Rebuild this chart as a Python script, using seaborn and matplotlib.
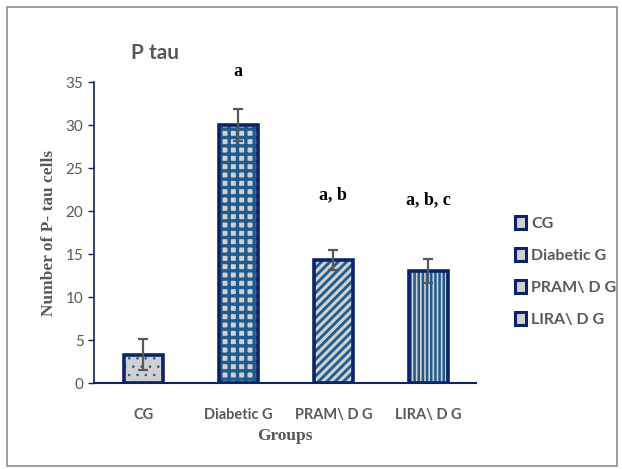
import matplotlib
matplotlib.use("Agg")
import matplotlib.pyplot as plt
import seaborn as sns
import pandas as pd
from matplotlib.patches import Patch, Rectangle

groups = ["CG", "Diabetic G", "PRAM\\ D G", "LIRA\\ D G"]
means = [3.3, 30.0, 14.3, 13.0]
errors = [1.8, 1.9, 1.2, 1.4]
letters = ["", "a", "a, b", "a, b, c"]
letter_y = [0, 36.2, 21.9, 21.3]
hatches = ["..", "++", "////", "||||"]
hatch_lw = [0.6, 2.4, 2.0, 1.8]

sns.set_theme(style="white")
plt.rcParams["font.family"] = ["Lato", "DejaVu Sans"]
plt.rcParams["hatch.linewidth"] = 2.0

NAVY = "#0b2466"
HATCH = "#1f5b8f"
FILL = "#d0d0d0"
GRAY = "#595959"

df = pd.DataFrame({"group": groups, "value": means})

fig = plt.figure(figsize=(6.22, 4.69), dpi=100)
ax = fig.add_axes([0.151, 0.183, 0.614, 0.642])

sns.barplot(data=df, x="group", y="value", ax=ax, color=FILL, width=0.41,
            errorbar=None, saturation=1)

for p, h, hl in zip(ax.patches, hatches, hatch_lw):
    p.set_hatch(h)
    p.set_edgecolor(HATCH)
    p.set_linewidth(0)
    if hasattr(p, "set_hatch_linewidth"):
        p.set_hatch_linewidth(hl)
    ax.add_patch(Rectangle((p.get_x(), p.get_y()), p.get_width(), p.get_height(),
                           fill=False, edgecolor=NAVY, linewidth=2.6, zorder=3))

ax.errorbar(range(len(groups)), means, yerr=errors, fmt="none", ecolor=GRAY,
            elinewidth=1.6, capsize=3.5, capthick=1.6, zorder=4)

for i, (t, y) in enumerate(zip(letters, letter_y)):
    if t:
        ax.text(i, y, t, ha="center", va="center", fontsize=13, fontweight="bold",
                family="Liberation Serif", color="black")

ax.set_ylim(0, 35)
ax.set_xlim(-0.52, 3.5)
ax.set_yticks(range(0, 36, 5))
ax.tick_params(axis="y", which="both", left=True, length=4, color=NAVY,
               labelsize=11, labelcolor=GRAY, width=1)
ax.tick_params(axis="x", bottom=False, labelsize=10.5, labelcolor=GRAY, pad=12)
for lab in ax.get_xticklabels():
    lab.set_fontweight("bold")
for s in ["top", "right"]:
    ax.spines[s].set_visible(False)
ax.spines["left"].set_color(NAVY)
ax.spines["bottom"].set_color(NAVY)
ax.spines["left"].set_linewidth(1.2)
ax.spines["bottom"].set_linewidth(1.5)

ax.set_xlabel("Groups", family="Liberation Serif", fontweight="bold",
              fontsize=12.5, color=GRAY, labelpad=4)
ax.set_ylabel("Number of P- tau cells", family="Liberation Serif", fontweight="bold",
              fontsize=12.5, color=GRAY, labelpad=6)

fig.text(0.21, 0.887, "P tau", fontsize=15, fontweight="bold", color=GRAY,
         ha="left", va="center")

handles = [Patch(facecolor=FILL, edgecolor=NAVY, linewidth=2.2, label=g)
           for g in groups]
leg = fig.legend(handles=handles, loc="upper left", bbox_to_anchor=(0.805, 0.57),
                 frameon=False, handlelength=0.7, handleheight=0.9,
                 handletextpad=0.3, labelspacing=1.05,
                 prop={"family": "Lato", "size": 11.5, "weight": "bold"})
for t in leg.get_texts():
    t.set_color(GRAY)

fig.patches.append(Rectangle((7 / 622, 3 / 469), 610 / 622, 459 / 469,
                             transform=fig.transFigure, fill=False,
                             edgecolor="#8c8c8c", linewidth=1.2))

fig.savefig("out.png", dpi=100)
